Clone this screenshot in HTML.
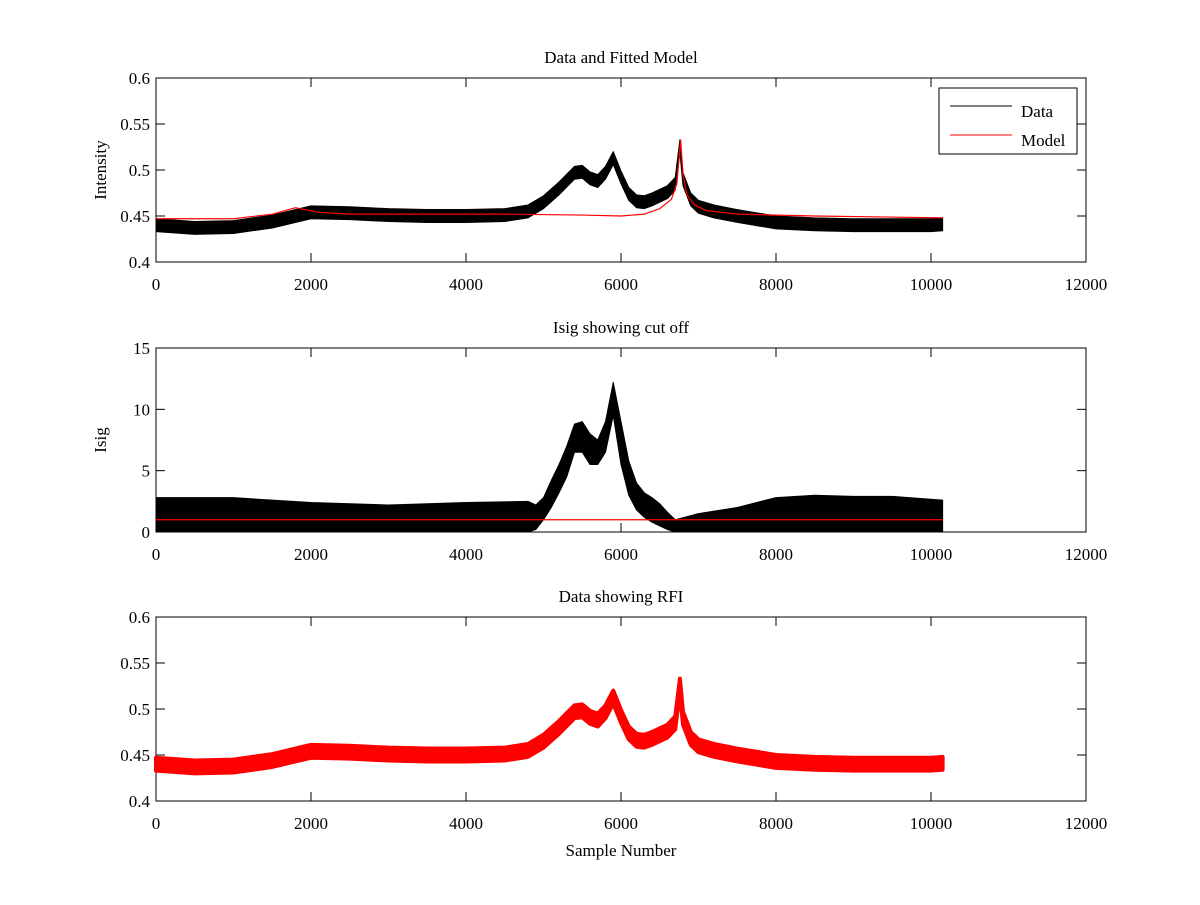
<!DOCTYPE html>
<html><head><meta charset="utf-8"><style>
body{margin:0;background:#fff}
svg text{font-family:"Liberation Serif",serif;font-size:17px;fill:#000}
</style></head><body>
<svg id="fig" width="1200" height="900" xmlns="http://www.w3.org/2000/svg"></svg>
<script>
const intX = [0,500,1000,1500,2000,2500,3000,3500,4000,4500,4800,5000,5200,5400,5500,5600,5700,5800,5900,6000,6100,6200,6300,6400,6500,6600,6700,6760,6800,6900,7000,7200,7500,8000,8500,9000,9500,10000,10150];
const intMean = [0.440,0.437,0.438,0.444,0.454,0.453,0.451,0.450,0.450,0.451,0.455,0.465,0.480,0.497,0.498,0.491,0.488,0.497,0.513,0.492,0.474,0.466,0.465,0.468,0.472,0.476,0.485,0.526,0.490,0.468,0.460,0.455,0.450,0.443,0.441,0.440,0.440,0.440,0.441];
const intHalf = 0.007;
const modelX = [0,1000,1500,1800,2100,2500,4500,5500,6000,6300,6500,6650,6720,6770,6800,6850,6950,7100,7500,8500,10150];
const modelY = [0.447,0.447,0.452,0.459,0.454,0.452,0.452,0.451,0.450,0.452,0.458,0.468,0.485,0.533,0.495,0.473,0.462,0.456,0.452,0.450,0.448];
const isigX = [0,1000,2000,3000,4000,4800,4900,5000,5100,5200,5300,5400,5500,5600,5700,5800,5900,6000,6100,6200,6300,6400,6500,6600,6700,7000,7500,8000,8500,9000,9500,10150];
const isigLo = [0.0,0.0,0.0,0.0,0.0,0.0,0.2,1.0,2.0,3.2,4.5,6.5,6.5,5.5,5.5,6.5,9.5,5.5,3.0,1.8,1.2,0.8,0.5,0.2,0.0,0.0,0.0,0.0,0.0,0.0,0.0,0.0];
const isigHi = [2.8,2.8,2.4,2.2,2.4,2.5,2.2,2.8,4.2,5.5,7.0,8.8,9.0,8.0,7.5,9.0,12.2,9.0,5.8,4.0,3.2,2.8,2.3,1.6,1.0,1.5,2.0,2.8,3.0,2.9,2.9,2.6];
const cutX = [0,10150];
const cutY = [1.0,1.0];
const xTicks = [0,2000,4000,6000,8000,10000,12000];
const intTicks = [0.4,0.45,0.5,0.55,0.6];
const intTickLabels = ["0.4","0.45","0.5","0.55","0.6"];
const isigTicks = [0,5,10,15];

const NS="http://www.w3.org/2000/svg";
const svg=document.getElementById('fig');
function mk(tag,attrs,parent){const e=document.createElementNS(NS,tag);for(const k in attrs)e.setAttribute(k,attrs[k]);(parent||svg).appendChild(e);return e;}
const X0=156,X1=1086;
function sx(v){return X0+(v/12000)*(X1-X0);}
function axes(top,bot,ymin,ymax,yt,ytl,title,ylabel,name){
  const g=mk('g',{});
  
  
  const sy=v=>bot-(v-ymin)/(ymax-ymin)*(bot-top);
  const r=mk('rect',{x:X0,y:top,width:X1-X0,height:bot-top,fill:'none',stroke:'#000','stroke-width':1},g);
  
  
  xTicks.forEach(t=>{const x=sx(t);
    mk('line',{x1:x,y1:bot,x2:x,y2:bot-9,stroke:'#000'},g);
    mk('line',{x1:x,y1:top,x2:x,y2:top+9,stroke:'#000'},g);
    const tx=mk('text',{x:x,y:bot+28,'text-anchor':'middle'},g);tx.textContent=t;
    
    
  });
  yt.forEach((t,i)=>{const y=sy(t);
    mk('line',{x1:X0,y1:y,x2:X0+9,y2:y,stroke:'#000'},g);
    mk('line',{x1:X1,y1:y,x2:X1-9,y2:y,stroke:'#000'},g);
    const tx=mk('text',{x:X0-6,y:y+6,'text-anchor':'end'},g);tx.textContent=ytl[i];
    
    
  });
  const tt=mk('text',{x:(X0+X1)/2,y:top-15,'text-anchor':'middle'},g);tt.textContent=title;
  
  
  if(ylabel){const yl=mk('text',{x:0,y:0,'text-anchor':'middle',transform:`translate(106,${(top+bot)/2}) rotate(-90)`},g);yl.textContent=ylabel;
    
    }
  return {g,sy};
}
function band(g,xs,lo,hi,sy,color,sw,name){
  let pts=xs.map((x,i)=>sx(x)+','+sy(hi[i]));
  for(let i=xs.length-1;i>=0;i--)pts.push(sx(xs[i])+','+sy(lo[i]));
  const p=mk('polygon',{points:pts.join(' '),fill:color,stroke:color,'stroke-width':sw,'stroke-linejoin':'round'},g);
  
  
}
function line(g,xs,ys,sy,color,name){
  const p=mk('polyline',{points:xs.map((x,i)=>sx(x)+','+sy(ys[i])).join(' '),fill:'none',stroke:color,'stroke-width':1.2},g);
  
  
}
const lo=intMean.map(v=>v-intHalf), hi=intMean.map(v=>v+intHalf);
const a1=axes(78,262,0.4,0.6,intTicks,intTickLabels,'Data and Fitted Model','Intensity','top-panel');
band(a1.g,intX,lo,hi,a1.sy,'#000',1,'data-series');
line(a1.g,modelX,modelY,a1.sy,'#f00','model-series');
const lg=mk('g',{},a1.g);


mk('rect',{x:939,y:88,width:138,height:66,fill:'#fff',stroke:'#000'},lg);
mk('line',{x1:950,y1:106,x2:1012,y2:106,stroke:'#000'},lg);
mk('line',{x1:950,y1:135,x2:1012,y2:135,stroke:'#f00'},lg);
const l1=mk('text',{x:1021,y:117},lg);l1.textContent='Data';


const l2=mk('text',{x:1021,y:146},lg);l2.textContent='Model';


const a2=axes(348,532,0,15,isigTicks,isigTicks.map(String),'Isig showing cut off','Isig','middle-panel');
band(a2.g,isigX,isigLo,isigHi,a2.sy,'#000',1,'isig-series');
line(a2.g,cutX,cutY,a2.sy,'#f00','cutoff-line');
const a3=axes(617,801,0.4,0.6,intTicks,intTickLabels,'Data showing RFI','','bottom-panel');
band(a3.g,intX,lo,hi,a3.sy,'#f00',4,'rfi-series');
const xl=mk('text',{x:621,y:856,'text-anchor':'middle'});xl.textContent='Sample Number';


</script>
</body></html>
